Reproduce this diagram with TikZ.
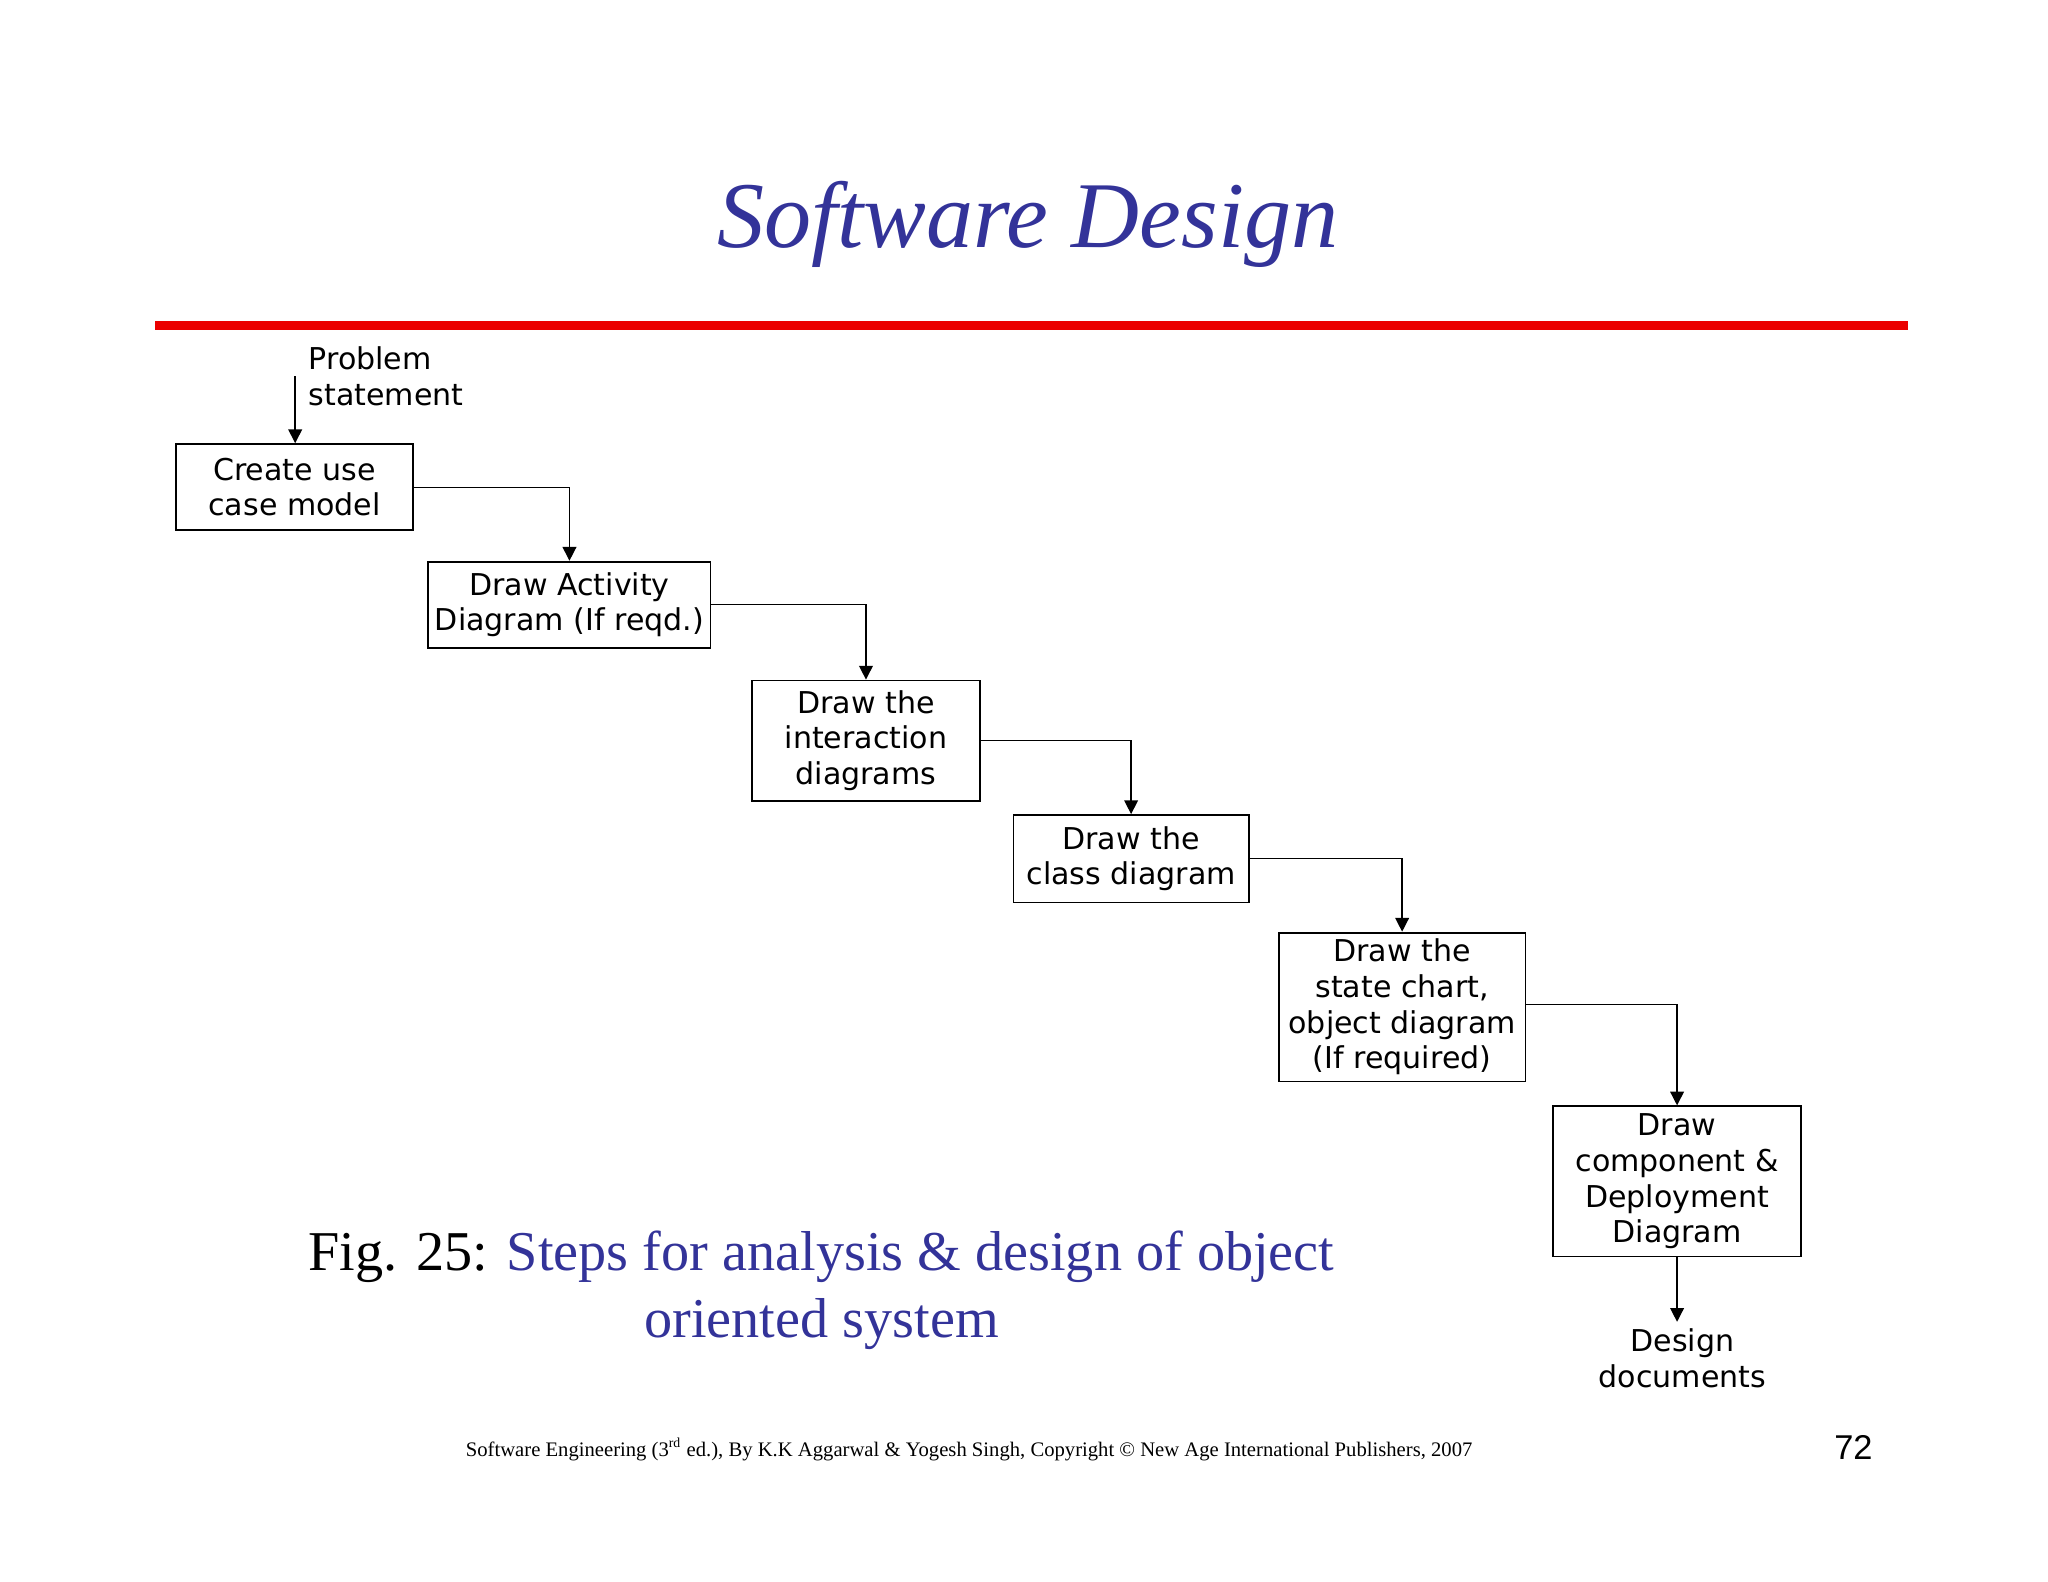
\documentclass[tikz,border=0pt]{standalone}
\usepackage{fontspec}
\setmainfont{Liberation Serif}
\newfontfamily\boxfont{DejaVu Sans}
\newfontfamily\arialfont{Liberation Sans}
\usetikzlibrary{arrows.meta}
\definecolor{tblue}{RGB}{51,51,153}
\definecolor{tred}{RGB}{235,0,0}
\begin{document}
\begin{tikzpicture}[x=0.02cm,y=-0.02cm,
  stepbox/.style={draw,line width=0.8pt,align=center,font=\boxfont\fontsize{13.1}{15.5}\selectfont,inner sep=0pt},
  plain/.style={align=center,font=\boxfont\fontsize{13.1}{15.5}\selectfont,inner sep=0pt},
  conn/.style={line width=0.6pt,-{Triangle[length=6pt,width=6pt]}}]
\useasboundingbox (0,0) rectangle (1568,1211);
\node (title) at (787,172) {\fontsize{41}{48}\selectfont\itshape\color{tblue}Software Design};
\fill[tred] (119,246) rectangle (1461,253);
\node[plain,align=left,anchor=west] (ps) at (236,288) {Problem\\statement};
\coordinate (pstop) at (226,288);
\node[stepbox,minimum width=181*0.02cm,minimum height=66*0.02cm] (b1) at (225.5,373) {Create use\\case model};
\node[stepbox,minimum width=216*0.02cm,minimum height=66*0.02cm] (b2) at (436,463) {Draw Activity\\Diagram (If reqd.)};
\node[stepbox,minimum width=174*0.02cm,minimum height=92*0.02cm] (b3) at (663,567) {Draw the\\interaction\\diagrams};
\node[stepbox,minimum width=180*0.02cm,minimum height=67*0.02cm] (b4) at (866,657.5) {Draw the\\class diagram};
\node[stepbox,minimum width=189*0.02cm,minimum height=114*0.02cm] (b5) at (1073.5,771) {Draw the\\state chart,\\object diagram\\(If required)};
\node[stepbox,minimum width=190*0.02cm,minimum height=115*0.02cm] (b6) at (1284,904.5) {Draw\\component \&\\Deployment\\Diagram};
\node[plain] (dd) at (1288,1040) {Design\\documents};
\coordinate (ddtop) at (1284,1012);
\draw[conn] (pstop) -- (b1.north -| pstop);
\draw[conn] (b1.east) -| (b2.north);
\draw[conn] (b2.east) -| (b3.north);
\draw[conn] (b3.east) -| (b4.north);
\draw[conn] (b4.east) -| (b5.north);
\draw[conn] (b5.east |- 0,769) -| (b6.north);
\draw[conn] (b6.south) -- (ddtop);
\node[align=center,font=\fontsize{24.5}{29}\selectfont] (cap) at (629,988) {Fig. 25: \color{tblue}Steps for analysis \& design of object\\\color{tblue}oriented system};
\node[font=\fontsize{9}{10}\selectfont] (foot) at (742,1110) {Software Engineering (3\textsuperscript{rd} ed.), By K.K Aggarwal \& Yogesh Singh, Copyright © New Age International Publishers, 2007};
\node[font=\arialfont\fontsize{15}{18}\selectfont] (pg) at (1419,1108) {72};
\end{tikzpicture}
\end{document}
